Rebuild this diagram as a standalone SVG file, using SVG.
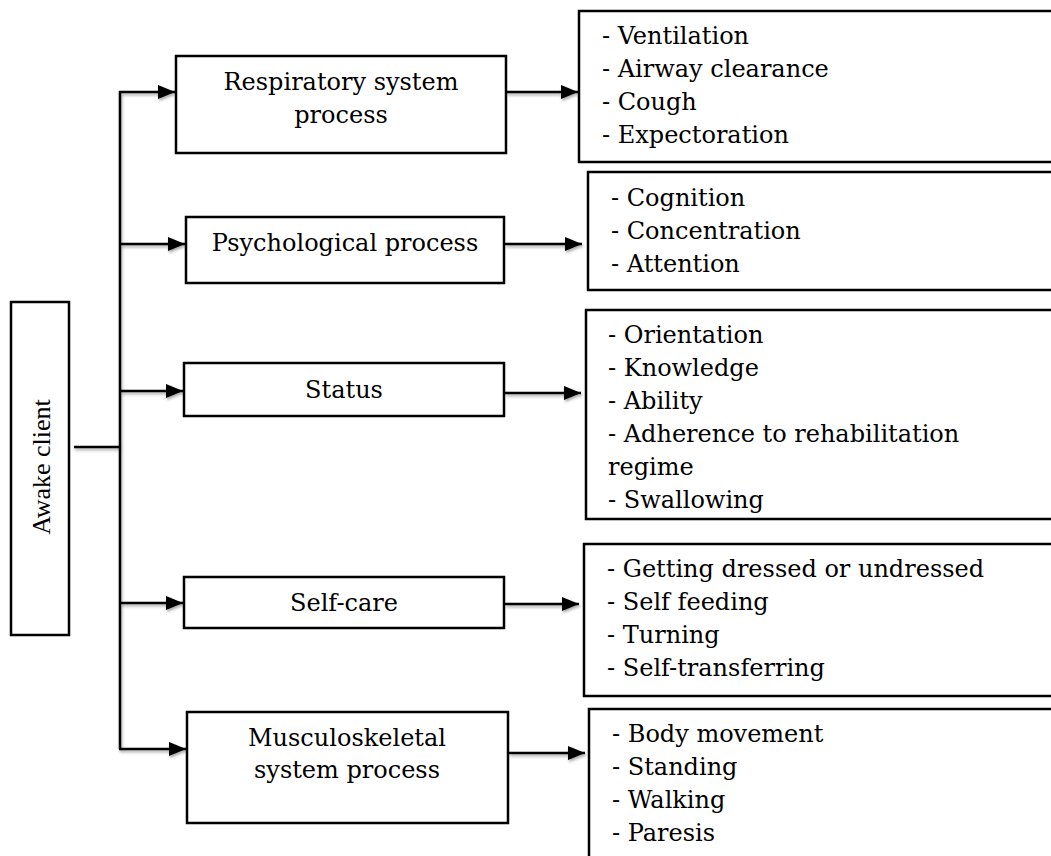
<svg xmlns="http://www.w3.org/2000/svg" width="1051" height="856" viewBox="0 0 1051 856">
<style>
.box{fill:#fff;stroke:#000;stroke-width:2.5}
.t{font-family:"DejaVu Serif","Liberation Serif",serif;font-size:24px;fill:#000}
.c{text-anchor:middle}
.ln{fill:none;stroke:#000;stroke-width:2.5}
</style>
<defs>
<marker id="ah" markerUnits="userSpaceOnUse" markerWidth="18" markerHeight="16" refX="17" refY="7" orient="auto">
<path d="M0,0 L17,7 L0,14 Z" fill="#000"/>
</marker>
<filter id="sh" x="-10%" y="-10%" width="130%" height="130%">
<feDropShadow dx="1" dy="2" stdDeviation="1.5" flood-color="#000" flood-opacity="0.35"/>
</filter>
</defs>
<rect width="1051" height="856" fill="#fff"/>
<g id="connectors" filter="url(#sh)">
<path class="ln" d="M74,447 H120"/>
<path class="ln" d="M120,91 V749"/>
<path class="ln" d="M119,92 H175" marker-end="url(#ah)"/>
<path class="ln" d="M119,244 H185" marker-end="url(#ah)"/>
<path class="ln" d="M119,391 H183" marker-end="url(#ah)"/>
<path class="ln" d="M119,603 H183" marker-end="url(#ah)"/>
<path class="ln" d="M119,749 H186" marker-end="url(#ah)"/>
<path class="ln" d="M506,92 H578" marker-end="url(#ah)"/>
<path class="ln" d="M505,244 H582" marker-end="url(#ah)"/>
<path class="ln" d="M505,393 H581" marker-end="url(#ah)"/>
<path class="ln" d="M505,604 H579" marker-end="url(#ah)"/>
<path class="ln" d="M509,753 H585" marker-end="url(#ah)"/>
</g>
<g id="awake">
<rect class="box" x="11" y="302" width="58" height="333"/>
<text transform="translate(50,467) rotate(-90)" text-anchor="middle" font-family="Liberation Serif,serif" font-size="26">Awake client</text>
</g>
<g id="respiratory">
<rect class="box" x="176" y="56" width="330" height="97"/>
<text class="t c" x="341" y="90">Respiratory system</text>
<text class="t c" x="341" y="123">process</text>
</g>
<g id="psychological">
<rect class="box" x="186" y="217" width="318" height="66"/>
<text class="t c" x="345" y="251">Psychological process</text>
</g>
<g id="status">
<rect class="box" x="184" y="363" width="320" height="53"/>
<text class="t c" x="344" y="398">Status</text>
</g>
<g id="selfcare">
<rect class="box" x="184" y="577" width="320" height="51"/>
<text class="t c" x="344" y="611">Self-care</text>
</g>
<g id="musculoskeletal">
<rect class="box" x="187" y="712" width="321" height="111"/>
<text class="t c" x="347" y="746">Musculoskeletal</text>
<text class="t c" x="347" y="778">system process</text>
</g>
<g id="respiratory-items">
<rect class="box" x="579" y="11" width="490" height="151"/>
<text class="t" x="602" y="44">- Ventilation</text>
<text class="t" x="602" y="77">- Airway clearance</text>
<text class="t" x="602" y="110">- Cough</text>
<text class="t" x="602" y="143">- Expectoration</text>
</g>
<g id="psychological-items">
<rect class="box" x="588" y="172" width="480" height="118"/>
<text class="t" x="611" y="206">- Cognition</text>
<text class="t" x="611" y="239">- Concentration</text>
<text class="t" x="611" y="272">- Attention</text>
</g>
<g id="status-items">
<rect class="box" x="586" y="310" width="480" height="209"/>
<text class="t" x="608" y="343">- Orientation</text>
<text class="t" x="608" y="376">- Knowledge</text>
<text class="t" x="608" y="409">- Ability</text>
<text class="t" x="608" y="442">- Adherence to rehabilitation</text>
<text class="t" x="608" y="475">regime</text>
<text class="t" x="608" y="508">- Swallowing</text>
</g>
<g id="selfcare-items">
<rect class="box" x="584" y="544" width="480" height="152"/>
<text class="t" x="607" y="577">- Getting dressed or undressed</text>
<text class="t" x="607" y="610">- Self feeding</text>
<text class="t" x="607" y="643">- Turning</text>
<text class="t" x="607" y="676">- Self-transferring</text>
</g>
<g id="musculoskeletal-items">
<rect class="box" x="589" y="709" width="480" height="170"/>
<text class="t" x="612" y="742">- Body movement</text>
<text class="t" x="612" y="775">- Standing</text>
<text class="t" x="612" y="808">- Walking</text>
<text class="t" x="612" y="841">- Paresis</text>
</g>
</svg>
